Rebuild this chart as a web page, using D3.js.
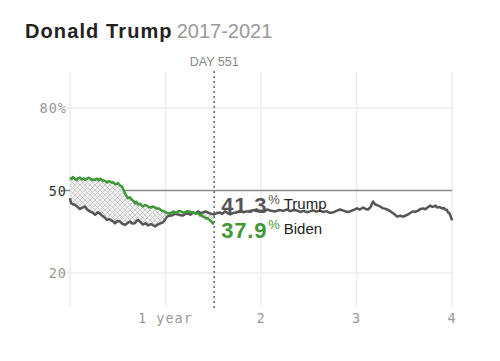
<!DOCTYPE html>
<html><head><meta charset="utf-8">
<script src="https://cdn.jsdelivr.net/npm/d3@7"></script>
<style>body{margin:0;background:#fff}svg{display:block}</style>
</head><body>
<script>
// Data: days since inauguration vs approval %
const trumpDays = [0,4,10,19,28,38,48,57,66,76,86,96,107,114,122,132,141,150,160,166,172,181,191,200,210,220,229,238,248,254,260,270,279,289,298,310,325,335,344,355,363,371,380,390,400,413,422,432,441,451,460,470,480,489,498,508,518,527,540,551,562,573,582,592,602,612,625,638,650,663,676,688,700,713,726,740,753,768,784,800,815,829,842,855,868,880,893,905,917,930,942,955,968,980,993,1005,1018,1032,1045,1058,1070,1083,1097,1108,1120,1130,1139,1149,1158,1166,1175,1185,1195,1203,1212,1222,1231,1240,1250,1262,1273,1283,1292,1302,1311,1320,1330,1340,1349,1358,1368,1376,1384,1391,1397,1403,1413,1422,1428,1433,1440,1445,1449,1452,1456,1460];
const trumpVals = [47.2,45.4,45.0,44.8,44.1,43.3,43.8,44.2,43.0,42.4,42.0,41.2,42.1,41.6,40.9,40.2,39.3,39.6,39.0,38.6,38.1,38.9,38.7,37.9,37.5,38.2,38.7,38.0,38.1,38.9,39.3,38.4,37.6,38.1,37.3,37.8,36.9,37.6,38.0,38.4,39.4,40.5,40.8,40.9,41.5,41.3,41.0,40.9,41.5,41.6,41.2,42.0,41.6,42.4,41.8,42.0,42.4,42.0,41.5,41.3,41.8,42.0,41.5,42.4,41.8,41.3,41.9,42.0,42.6,42.1,42.4,42.4,42.9,42.5,42.7,42.2,43.1,42.6,42.4,42.9,42.6,43.1,42.5,42.9,42.7,42.2,42.6,42.1,42.4,42.8,42.3,42.7,42.2,42.5,41.9,42.0,42.6,43.1,42.7,42.2,42.4,42.9,43.5,43.1,43.8,43.3,43.1,44.0,46.0,45.0,44.6,44.2,43.6,43.4,43.1,42.6,42.0,41.4,40.5,40.8,40.5,40.9,41.3,41.9,42.4,42.2,42.7,43.3,43.5,43.2,43.9,44.5,44.1,44.2,44.5,43.8,44.0,43.5,43.7,43.1,43.0,42.0,41.9,41.3,40.4,39.1];
const bidenDays = [0,6,11,19,26,31,38,46,52,57,64,70,76,84,90,96,103,110,115,122,128,134,141,147,153,160,166,172,178,183,190,195,199,204,210,216,222,229,237,243,248,254,260,268,273,279,287,294,301,310,318,325,333,340,346,352,360,367,374,382,390,397,403,409,416,424,432,440,447,455,462,470,478,485,491,497,503,508,514,520,526,531,537,543,547,551];
const bidenVals = [54.7,54.2,54.9,54.3,53.8,54.5,54.7,54.0,54.4,53.9,54.2,54.6,54.5,53.8,54.0,53.9,54.3,53.7,54.3,53.9,53.6,53.5,52.9,53.4,53.3,52.8,53.0,52.3,52.4,52.7,52.0,51.5,51.5,50.4,49.0,48.0,47.2,47.5,46.6,46.2,45.4,45.9,44.9,45.2,44.6,44.2,44.7,44.5,44.0,43.8,44.2,43.8,43.4,43.5,43.0,42.7,42.4,42.0,41.7,41.6,42.1,42.4,41.8,42.0,42.6,42.4,42.0,42.0,42.5,42.4,42.1,42.0,41.8,41.6,41.7,40.9,41.1,40.5,40.3,39.8,39.9,39.5,39.0,38.4,38.0,37.9];
const yTicks = [80,50,20];
const yTickLabels = ["80%","50","20"];
const xTicks = [0,365,730,1095,1460];
const xTickLabels = ["","1 year","2","3","4"];
const currentDay = 551;
const trumpNow = 41.3, bidenNow = 37.9;

const W = 500, H = 361;
const svg = d3.select("body").append("svg").attr("width", W).attr("height", H);
const x = d3.scaleLinear().domain([0,1460]).range([70,452]);
const y = d3.scaleLinear().domain([20,80]).range([273,108]);

const defs = svg.append("defs");
const pat = defs.append("pattern").attr("id","hatch").attr("patternUnits","userSpaceOnUse")
  .attr("width",5).attr("height",5);
pat.append("rect").attr("width",5).attr("height",5).attr("fill","#f1f1f1");
pat.append("path").attr("d","M0,0L5,5M5,0L0,5").attr("stroke","#bdbdbd").attr("stroke-width",0.7);

// title
const t = svg.append("text").attr("x",25).attr("y",38).attr("font-family","Liberation Sans, Arial, sans-serif").attr("font-size",20);
t.append("tspan").attr("font-weight","bold").attr("fill","#222").attr("letter-spacing",1.1).text("Donald Trump");
t.append("tspan").attr("fill","#999").attr("dx",4).text("2017-2021");

// vertical gridlines
svg.selectAll(".vg").data(xTicks).join("line")
  .attr("x1",d=>x(d)).attr("x2",d=>x(d)).attr("y1",72).attr("y2",307)
  .attr("stroke","#ececec").attr("stroke-width",1.5);
// horizontal gridlines
svg.selectAll(".hg").data(yTicks).join("line")
  .attr("x1",63).attr("x2",x(1460)).attr("y1",d=>y(d)).attr("y2",d=>y(d))
  .attr("stroke",d=>d===50?"#8a8a8a":"#ececec").attr("stroke-width",1.5);

// y labels
svg.selectAll(".yl").data(yTicks).join("text")
  .attr("x",67).attr("y",d=>y(d)+5).attr("text-anchor","end")
  .attr("font-family","DejaVu Sans Mono, monospace").attr("font-size",13.5).attr("letter-spacing",1)
  .attr("fill",d=>d===50?"#333":"#999")
  .text((d,i)=>yTickLabels[i]);
// x labels
svg.selectAll(".xl").data(xTicks).join("text")
  .attr("x",d=>x(d)).attr("y",323).attr("text-anchor","middle")
  .attr("font-family","DejaVu Sans Mono, monospace").attr("font-size",13.5).attr("letter-spacing",1)
  .attr("fill","#999")
  .text((d,i)=>xTickLabels[i]);

// hatch area between series up to current day
const bPts = bidenDays.map((d,i)=>[x(d),y(bidenVals[i])]);
const tPts = trumpDays.map((d,i)=>[d,trumpVals[i]]).filter(p=>p[0]<=currentDay).map(p=>[x(p[0]),y(p[1])]);
svg.append("path").attr("d", d3.line()(bPts.concat(tPts.reverse())) + "Z")
  .attr("fill","url(#hatch)");

const line = d3.line().x(d=>x(d[0])).y(d=>y(d[1]));
svg.append("path").datum(trumpDays.map((d,i)=>[d,trumpVals[i]]))
  .attr("d",line).attr("fill","none").attr("stroke","#555").attr("stroke-width",2.5).attr("stroke-linejoin","round");
svg.append("path").datum(bidenDays.map((d,i)=>[d,bidenVals[i]]))
  .attr("d",line).attr("fill","none").attr("stroke","#3e9a36").attr("stroke-width",2.5).attr("stroke-linejoin","round");

// current day marker
svg.append("line").attr("x1",x(currentDay)).attr("x2",x(currentDay)).attr("y1",71).attr("y2",310)
  .attr("stroke","#666").attr("stroke-width",1.5).attr("stroke-dasharray","2,3");
svg.append("text").attr("x",x(currentDay)).attr("y",66).attr("text-anchor","middle")
  .attr("font-family","Liberation Sans, Arial, sans-serif").attr("font-size",12.5).attr("fill","#888")
  .text("DAY " + currentDay);

// value labels
function valLabel(val, name, yb, col, ncol){
  const g = svg.append("text").attr("x",x(currentDay)+7).attr("y",yb)
    .attr("font-family","Liberation Sans, Arial, sans-serif");
  g.append("tspan").attr("font-size",22).attr("font-weight","bold").attr("letter-spacing",0.8)
    .attr("fill",col).text(val.toFixed(1));
  g.append("tspan").attr("font-size",13).attr("fill",col).attr("dx",1).attr("dy",-9).text("%");
  g.append("tspan").attr("font-size",15).attr("fill",ncol).attr("dx",4).attr("dy",5).text(name);
}
valLabel(trumpNow,"Trump",213,"#555","#222");
valLabel(bidenNow,"Biden",238,"#3e9a36","#222");
</script>
</body></html>
